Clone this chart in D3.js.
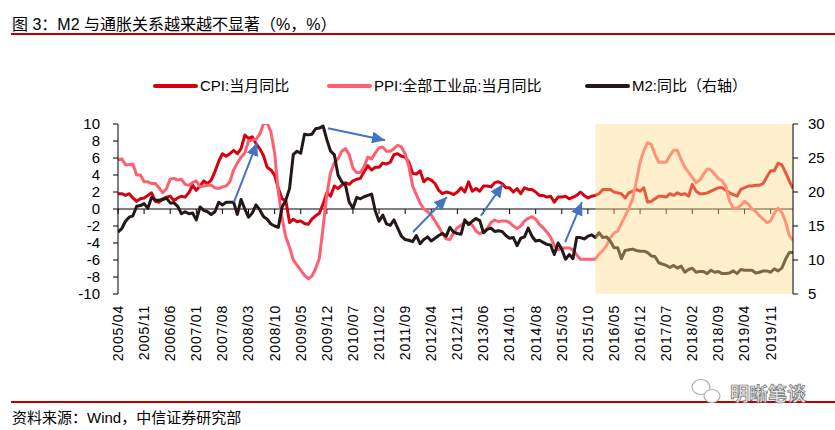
<!DOCTYPE html>
<html>
<head>
<meta charset="utf-8">
<script src="https://cdn.jsdelivr.net/npm/d3@7"></script>
<style>
  body { margin: 0; background: #fff; }
  svg { display: block; font-family: "Liberation Sans", Arial, "Noto Sans CJK SC", sans-serif; }
</style>
</head>
<body>
<script>
// monthly data, 2005/04 .. 2020/05
const cpi = [
  1.8,1.8,1.6,1.8,1.3,0.9,1.2,1.3,1.6,                 // 2005
  1.9,0.9,0.8,1.2,1.4,1.5,1.0,1.3,1.5,1.4,1.9,2.8,     // 2006
  2.2,2.7,3.3,3.0,3.4,4.4,5.6,6.5,6.2,6.5,6.9,6.5,     // 2007
  7.1,8.7,8.3,8.5,7.7,7.1,6.3,4.9,4.6,4.0,2.4,1.2,     // 2008
  1.0,-1.6,-1.2,-1.5,-1.4,-1.7,-1.8,-1.2,-0.8,-0.5,0.6,1.9, // 2009
  1.5,2.7,2.4,2.8,3.1,2.9,3.3,3.5,3.6,4.4,5.1,4.6,     // 2010
  4.9,4.9,5.4,5.3,5.5,6.4,6.5,6.2,6.1,5.5,4.2,4.1,     // 2011
  4.5,3.2,3.6,3.4,3.0,2.2,1.8,2.0,1.9,1.7,2.0,2.5,     // 2012
  2.0,3.2,2.1,2.4,2.1,2.7,2.7,2.6,3.1,3.2,3.0,2.5,     // 2013
  2.5,2.0,2.4,1.8,2.5,2.3,2.3,2.0,1.6,1.6,1.4,1.5,     // 2014
  0.8,1.4,1.4,1.5,1.2,1.4,1.6,2.0,1.6,1.3,1.5,1.6,     // 2015
  1.8,2.3,2.3,2.3,2.0,1.9,1.8,1.3,1.9,2.1,2.3,2.1,     // 2016
  2.5,0.8,0.9,1.2,1.5,1.5,1.4,1.8,1.6,1.9,1.7,1.8,     // 2017
  1.5,2.9,2.1,1.8,1.8,1.9,2.1,2.3,2.5,2.5,2.2,1.9,     // 2018
  1.7,1.5,2.3,2.5,2.7,2.7,2.8,2.8,3.0,3.8,4.5,4.5,     // 2019
  5.4,5.2,4.3,3.3,2.4                                  // 2020
];
const ppi = [
  5.8,5.9,5.2,5.2,5.3,4.0,4.0,3.2,3.2,
  3.0,3.0,2.5,1.9,2.4,3.5,3.6,3.4,3.5,2.9,2.8,3.1,
  3.3,2.6,2.7,2.8,2.8,2.5,2.4,2.6,2.7,3.2,4.6,5.4,
  6.1,6.6,8.0,8.1,8.2,8.8,10.0,10.1,9.1,6.6,2.0,-1.1,
  -3.3,-4.5,-6.0,-6.6,-7.2,-7.8,-8.2,-7.9,-7.0,-5.8,-2.1,1.7,
  4.3,5.4,5.9,6.8,7.1,6.4,4.8,4.3,4.3,5.0,6.1,5.9,
  6.6,7.2,7.3,6.8,6.8,7.1,7.5,7.3,6.5,5.0,2.7,1.7,
  0.7,0.0,-0.3,-0.7,-1.4,-2.1,-2.9,-3.5,-3.6,-2.8,-2.2,-1.9,
  -1.6,-1.6,-1.9,-2.6,-2.9,-2.7,-2.3,-1.6,-1.3,-1.5,-1.4,-1.4,
  -1.6,-2.0,-2.3,-2.0,-1.4,-1.1,-0.9,-1.2,-1.8,-2.2,-2.7,-3.3,
  -4.3,-4.8,-4.6,-4.6,-4.6,-4.8,-5.4,-5.9,-5.9,-5.9,-5.9,-5.9,
  -5.3,-4.9,-4.3,-3.4,-2.8,-2.6,-1.7,-0.8,0.1,1.2,3.3,5.5,
  6.9,7.8,7.6,6.4,5.5,5.5,5.5,6.3,6.9,6.9,5.8,4.9,
  4.3,3.7,3.1,3.4,4.1,4.7,4.6,4.1,3.6,3.3,2.7,0.9,
  0.1,0.1,0.4,0.9,0.6,0.0,-0.3,-0.8,-1.2,-1.6,-1.4,-0.5,
  0.1,-0.4,-1.5,-3.1,-3.7
];
const m2 = [
  14.1,14.6,15.7,16.3,16.5,17.9,18.0,18.3,17.6,
  19.2,18.8,18.8,18.9,19.1,18.4,18.4,17.9,16.8,17.1,16.8,16.9,
  15.9,17.8,17.3,17.1,16.7,17.1,18.5,18.1,18.5,18.5,18.5,16.7,
  18.9,17.5,16.3,16.9,18.1,17.4,16.4,16.0,15.3,15.0,14.8,17.8,
  18.8,20.5,25.5,26.0,25.7,28.5,28.4,28.5,29.3,29.4,29.7,27.7,
  26.0,25.5,22.5,21.5,21.0,18.5,17.6,19.2,19.0,19.3,19.5,19.7,
  17.2,15.7,16.6,15.3,15.1,15.9,14.7,13.5,13.0,12.9,12.7,13.6,
  12.4,13.0,13.4,12.8,13.2,13.6,13.9,13.5,14.8,14.1,13.9,13.8,
  15.9,15.2,15.7,16.1,15.8,14.0,14.5,14.7,14.2,14.3,14.2,13.6,
  13.2,13.3,12.1,13.2,13.4,14.7,13.5,12.8,12.9,12.6,12.3,12.2,
  10.8,12.5,11.6,10.1,10.8,10.2,13.3,13.3,13.1,13.5,13.7,13.3,
  14.0,13.3,13.4,12.8,11.8,11.8,10.2,11.4,11.5,11.6,11.4,11.3,
  11.3,11.1,10.6,10.5,9.6,9.4,9.2,8.9,9.2,8.8,9.1,8.2,
  8.6,8.8,8.2,8.3,8.3,8.0,8.5,8.2,8.3,8.0,8.0,8.1,
  8.4,8.0,8.6,8.5,8.5,8.5,8.1,8.2,8.4,8.4,8.2,8.7,
  8.4,8.8,10.1,11.1,11.1
];

const tickLabels = ['2005/04','2005/11','2006/06','2007/01','2007/08','2008/03','2008/10',
  '2009/05','2009/12','2010/07','2011/02','2011/09','2012/04','2012/11','2013/06','2014/01',
  '2014/08','2015/03','2015/10','2016/05','2016/12','2017/07','2018/02','2018/09','2019/04','2019/11'];
const leftTicks = [-10,-8,-6,-4,-2,0,2,4,6,8,10];
const rightTicks = [5,10,15,20,25,30];
const seriesNames = ['CPI:当月同比', 'PPI:全部工业品:当月同比', 'M2:同比（右轴）'];
const shadeFrom = '2015/12';
// arrows: [from month, from value (left axis), to month, to value]
const arrows = [
  [31.1, 0.8, 37.3, 7.8],
  [56.3, 9.5, 71.6, 8.1],
  [79.1, -2.7, 88.2, 1.4],
  [97.3, -0.8, 103.2, 2.9],
  [119.9, -3.9, 124.4, 0.8]
];

const months = d3.timeMonth.range(new Date(2005, 3, 1), new Date(2020, 5, 1)).map(d3.timeFormat('%Y/%m'));

const W = 835, H = 430;
const colors = ['#d7000f', '#ff6070', '#231815'];

const svg = d3.select('body').append('svg').attr('width', W).attr('height', H);

const x = d3.scaleLinear().domain([0, months.length - 1]).range([118, 793]);
const yL = d3.scaleLinear().domain([-10, 10]).range([294, 124]);
const yR = d3.scaleLinear().domain([5, 30]).range([294, 124]);

// title
svg.append('text').attr('x', 12).attr('y', 30)
  .style('font-size', '16px').attr('fill', '#000')
  .text('图 3：M2 与通胀关系越来越不显著（%，%）');
svg.append('line').attr('x1', 11).attr('x2', W).attr('y1', 34).attr('y2', 34)
  .attr('stroke', '#c00000').attr('stroke-width', 2);

// legend
const legendX = [155, 329, 587];
seriesNames.forEach((name, i) => {
  svg.append('line')
    .attr('x1', legendX[i]).attr('x2', legendX[i] + 41)
    .attr('y1', 86).attr('y2', 86)
    .attr('stroke', colors[i]).attr('stroke-width', 4).attr('stroke-linecap', 'round');
  svg.append('text').attr('x', legendX[i] + 45).attr('y', 91)
    .style('font-size', '15px').text(name);
});

// zero line with month ticks
const xAxis = svg.append('g');
xAxis.append('line').attr('x1', 118).attr('x2', 793)
  .attr('y1', yL(0)).attr('y2', yL(0)).attr('stroke', '#000');
xAxis.selectAll('.tk').data(tickLabels).enter().append('line')
  .attr('x1', d => x(months.indexOf(d))).attr('x2', d => x(months.indexOf(d)))
  .attr('y1', yL(0)).attr('y2', yL(0) + 5).attr('stroke', '#000');
xAxis.selectAll('.lb').data(tickLabels).enter().append('text')
  .attr('transform', d => `translate(${x(months.indexOf(d))},305) rotate(-90)`)
  .attr('text-anchor', 'end').attr('dy', '0.35em')
  .style('font-size', '14px').style('letter-spacing', '0.8px')
  .text(d => d);

// lines
svg.append('clipPath').attr('id', 'plot')
  .append('rect').attr('x', 118).attr('y', 124).attr('width', 675).attr('height', 170);

const lineL = d3.line().x((d, i) => x(i)).y(d => yL(d));
const lineR = d3.line().x((d, i) => x(i)).y(d => yR(d));

const plot = svg.append('g').attr('clip-path', 'url(#plot)');
plot.append('path').datum(cpi).attr('d', lineL)
  .attr('fill', 'none').attr('stroke', colors[0]).attr('stroke-width', 3).attr('stroke-linejoin', 'round');
plot.append('path').datum(ppi).attr('d', lineL)
  .attr('fill', 'none').attr('stroke', colors[1]).attr('stroke-width', 3).attr('stroke-linejoin', 'round');
plot.append('path').datum(m2).attr('d', lineR)
  .attr('fill', 'none').attr('stroke', colors[2]).attr('stroke-width', 3).attr('stroke-linejoin', 'round');

// shaded period
const s0 = x(months.indexOf(shadeFrom));
svg.append('rect').attr('x', s0).attr('y', 124)
  .attr('width', x(months.length - 1) - s0).attr('height', 170)
  .attr('fill', 'rgb(255,219,134)').attr('fill-opacity', 0.41);

// arrows
const defs = svg.append('defs');
defs.append('marker').attr('id', 'head')
  .attr('markerUnits', 'userSpaceOnUse')
  .attr('markerWidth', 14).attr('markerHeight', 12)
  .attr('refX', 13).attr('refY', 6).attr('orient', 'auto')
  .append('path').attr('d', 'M0,0 L13,6 L0,12 Z').attr('fill', '#4472c4');
svg.selectAll('.arrow').data(arrows).enter().append('line')
  .attr('x1', d => x(d[0])).attr('y1', d => yL(d[1]))
  .attr('x2', d => x(d[2])).attr('y2', d => yL(d[3]))
  .attr('stroke', '#4472c4').attr('stroke-width', 2)
  .attr('marker-end', 'url(#head)');

// left axis
const la = svg.append('g');
la.append('line').attr('x1', 118).attr('x2', 118).attr('y1', 124).attr('y2', 294).attr('stroke', '#000');
la.selectAll('.t').data(leftTicks).enter().append('line')
  .attr('x1', 113).attr('x2', 118).attr('y1', d => yL(d)).attr('y2', d => yL(d)).attr('stroke', '#000');
la.selectAll('.l').data(leftTicks).enter().append('text')
  .attr('x', 100).attr('y', d => yL(d)).attr('dy', '0.35em').attr('text-anchor', 'end')
  .style('font-size', '15px').text(d => d);

// right axis
const ra = svg.append('g');
ra.append('line').attr('x1', 793).attr('x2', 793).attr('y1', 124).attr('y2', 294).attr('stroke', '#000');
ra.selectAll('.t').data(rightTicks).enter().append('line')
  .attr('x1', 793).attr('x2', 798).attr('y1', d => yR(d)).attr('y2', d => yR(d)).attr('stroke', '#000');
ra.selectAll('.l').data(rightTicks).enter().append('text')
  .attr('x', 808).attr('y', d => yR(d)).attr('dy', '0.35em')
  .style('font-size', '15px').text(d => d);

// footer
svg.append('line').attr('x1', 11).attr('x2', W).attr('y1', 402).attr('y2', 402)
  .attr('stroke', '#c00000').attr('stroke-width', 2);
svg.append('text').attr('x', 12).attr('y', 423)
  .style('font-size', '15px').text('资料来源：Wind，中信证券研究部');

// watermark
const wm = svg.append('g');
wm.append('ellipse').attr('cx', 701).attr('cy', 387).attr('rx', 9).attr('ry', 7.5)
  .attr('fill', '#fff').attr('stroke', '#b0b0b0').attr('stroke-width', 1.2);
wm.append('ellipse').attr('cx', 712).attr('cy', 396).attr('rx', 8).attr('ry', 6.5)
  .attr('fill', '#fff').attr('stroke', '#b0b0b0').attr('stroke-width', 1.2);
wm.append('text').attr('x', 730).attr('y', 401)
  .style('font-size', '19px').style('font-weight', 'bold')
  .attr('fill', '#e6e6e6').attr('stroke', '#6e6e6e').attr('stroke-width', 0.7)
  .text('明晰笔谈');
</script>
</body>
</html>
